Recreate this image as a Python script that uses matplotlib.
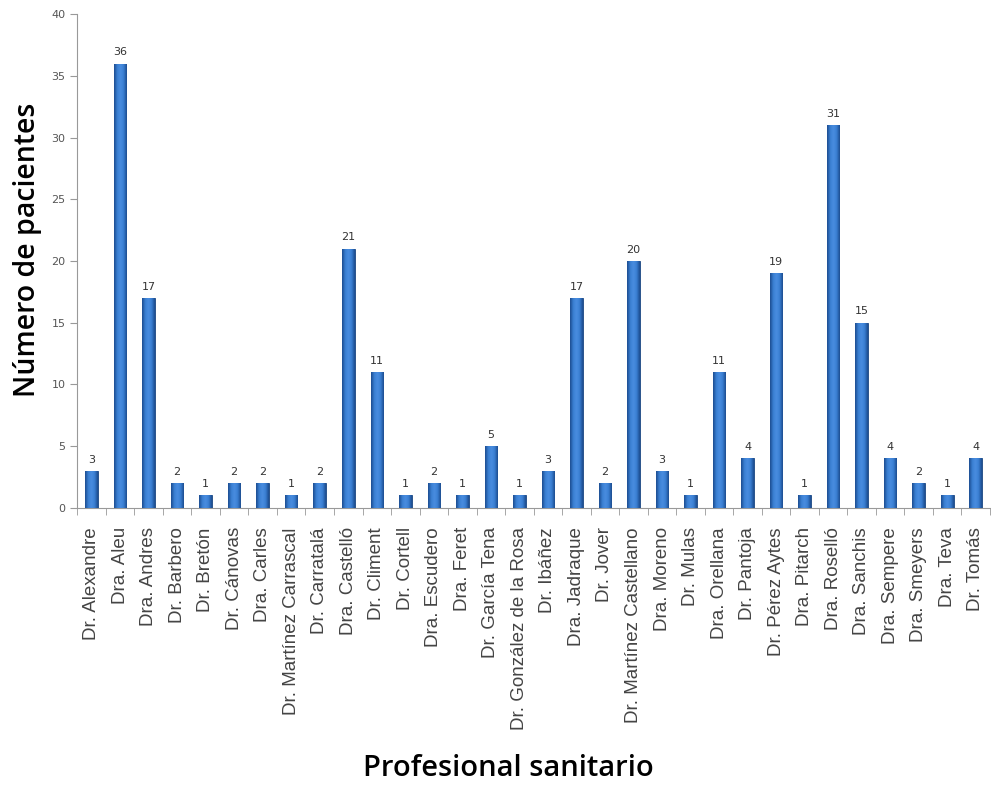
import numpy as np
import matplotlib
matplotlib.use("Agg")
import matplotlib.pyplot as plt
from matplotlib.colors import LinearSegmentedColormap

profesionales = [
    "Dr. Alexandre", "Dra. Aleu", "Dra. Andres", "Dr. Barbero", "Dr. Bretón",
    "Dr. Cánovas", "Dra. Carles", "Dr. Martínez Carrascal", "Dr. Carratalá",
    "Dra. Castelló", "Dr. Climent", "Dr. Cortell", "Dra. Escudero", "Dra. Feret",
    "Dr. García Tena", "Dr. González de la Rosa", "Dr. Ibáñez", "Dra. Jadraque",
    "Dr. Jover", "Dr. Martínez Castellano", "Dra. Moreno", "Dr. Mulas",
    "Dra. Orellana", "Dr. Pantoja", "Dr. Pérez Aytes", "Dra. Pitarch",
    "Dra. Roselló", "Dra. Sanchis", "Dra. Sempere", "Dra. Smeyers", "Dra. Teva",
    "Dr. Tomás",
]
pacientes = [3, 36, 17, 2, 1, 2, 2, 1, 2, 21, 11, 1, 2, 1, 5, 1, 3, 17, 2, 20,
             3, 1, 11, 4, 19, 1, 31, 15, 4, 2, 1, 4]
y_ticks = [0, 5, 10, 15, 20, 25, 30, 35, 40]

fig = plt.figure(figsize=(9.91, 7.86), dpi=100)
ax = fig.add_axes([0.078, 0.354, 0.921, 0.628])

x = np.arange(len(profesionales))
bars = ax.bar(x, pacientes, width=0.44, color="#2f69b3",
              edgecolor="#1a4680", linewidth=0.6, zorder=3)

# degradado horizontal dentro de cada barra (más claro en el centro)
cmap = LinearSegmentedColormap.from_list(
    "barra", ["#1b4b8e", "#3a7fd2", "#4a8de0", "#3a7fd2", "#1b4b8e"])
grad = np.linspace(0, 1, 64).reshape(1, -1)
for b in bars:
    x0, w, h = b.get_x(), b.get_width(), b.get_height()
    im = ax.imshow(grad, cmap=cmap, aspect="auto", extent=(x0, x0 + w, 0, h),
                   zorder=3.5, interpolation="bicubic")
    im.set_clip_path(b)

# etiquetas de valor sobre cada barra
for xi, v in zip(x, pacientes):
    ax.text(xi, v + 0.5, str(v), ha="center", va="bottom",
            fontsize=8, color="#333333", family="DejaVu Sans")

ax.set_xlim(-0.5, len(profesionales) - 0.5)
ax.set_ylim(0, 40)
ax.set_yticks(y_ticks)
ax.set_yticklabels([str(t) for t in y_ticks], fontsize=8, color="#555555")

ax.set_xticks(x)
ax.set_xticklabels(profesionales, rotation=90, fontsize=13.5, color="#444444",
                   family=["Liberation Sans Narrow", "Liberation Sans", "DejaVu Sans"])
ax.tick_params(axis="x", which="major", length=0, pad=14)
ax.set_xticks(np.arange(len(profesionales) + 1) - 0.5, minor=True)
ax.tick_params(axis="x", which="minor", length=5, color="#999999")
ax.tick_params(axis="y", length=5, color="#999999")

for s in ["top", "right"]:
    ax.spines[s].set_visible(False)
for s in ["left", "bottom"]:
    ax.spines[s].set_color("#999999")

fig.text(0.028, 0.682, "Número de pacientes", rotation=90, ha="center",
         va="center", fontsize=20.5, family="Open Sans", weight="semibold")
fig.text(0.513, 0.004, "Profesional sanitario", ha="center", va="bottom",
         fontsize=21, family="Open Sans", weight="semibold")

fig.savefig("out.png", dpi=100)
